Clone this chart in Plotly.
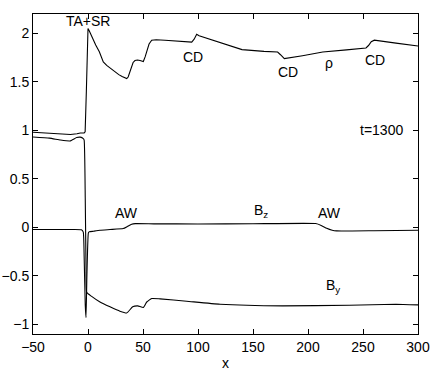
import plotly.graph_objects as go

# density rho
rho_x = [-50, -40, -30, -20, -16, -10, -7, -3.5, -2.6, -1.5, -0.6, 0, 1, 2.5, 4.8, 7, 10.3, 12,
         13.9, 17, 22, 28, 31, 33.5, 35.2, 36.5, 38, 39.7, 41, 42.7, 45, 47.3, 50.3, 52, 53.3,
         55.5, 57.9, 62, 70, 85, 94.3, 96.5, 98.8, 101, 105, 120, 140, 160, 172.4, 175, 177,
         178.5, 195, 213.4, 235, 252.7, 255, 257.5, 260.3, 263, 280, 300]
rho_y = [0.98, 0.975, 0.97, 0.96, 0.957, 0.965, 0.973, 0.973, 0.985, 1.4, 1.85, 2.05, 2.03,
         1.99, 1.93, 1.88, 1.81, 1.76, 1.705, 1.67, 1.625, 1.575, 1.555, 1.54, 1.534, 1.55, 1.6,
         1.654, 1.7, 1.72, 1.725, 1.72, 1.71, 1.76, 1.82, 1.89, 1.93, 1.935, 1.93, 1.92, 1.91,
         1.94, 1.99, 1.975, 1.96, 1.905, 1.833, 1.815, 1.808, 1.78, 1.75, 1.74, 1.77, 1.808,
         1.83, 1.85, 1.875, 1.915, 1.93, 1.925, 1.90, 1.87]

# B_y
by_x = [-50, -35, -25, -16.4, -10.3, -7, -4.3, -3.5, -2.5, -1.8, -1.2, 3, 10.9, 20, 29, 35.2,
        40.6, 45.2, 50.3, 53.4, 57.9, 65.5, 89.7, 120, 177, 237.5, 280, 300]
by_y = [0.932, 0.92, 0.9, 0.891, 0.926, 0.93, 0.915, 0.9, 0.3, -0.4, -0.67, -0.71, -0.77, -0.82,
        -0.865, -0.883, -0.82, -0.81, -0.827, -0.77, -0.734, -0.738, -0.762, -0.793, -0.81,
        -0.803, -0.793, -0.80]

# B_z
bz_x = [-50, -20, -6, -4.3, -3.5, -2.5, -1.8, -1.0, 0.3, 1, 5, 10.9, 20, 32, 36, 39.7, 43, 60,
        100, 150, 207, 212, 217, 222, 226, 260, 300]
bz_y = [-0.023, -0.023, -0.025, -0.05, -0.3, -0.8, -0.93, -0.5, -0.06, -0.047, -0.04, -0.03,
        -0.023, -0.013, 0.01, 0.032, 0.038, 0.036, 0.035, 0.037, 0.039, 0.02, -0.01, -0.03,
        -0.037, -0.035, -0.03]

labels = ["TA+SR", "CD", "CD", "ρ", "CD", "t=1300", "AW", "B<sub>z</sub>", "AW", "B<sub>y</sub>"]
lab_x = [0.3, 95.7, 181.5, 219.4, 261.2, 266.4, 35.2, 157, 219.4, 222.5]
lab_y = [2.128, 1.757, 1.60, 1.69, 1.723, 1.0, 0.148, 0.17, 0.148, -0.60]

fig = go.Figure()
# density drawn straight between the read points, the two field components smoothed
fig.add_trace(go.Scatter(x=rho_x, y=rho_y, mode="lines",
                         line=dict(color="black", width=1.1), showlegend=False))
for xs, ys in [(by_x, by_y), (bz_x, bz_y)]:
    fig.add_trace(go.Scatter(x=xs, y=ys, mode="lines",
                             line=dict(color="black", width=1.1, shape="spline", smoothing=0.4),
                             showlegend=False))

for t, x, y in zip(labels, lab_x, lab_y):
    fig.add_annotation(x=x, y=y, text=t, showarrow=False,
                       font=dict(size=14, color="black"))

axis_style = dict(showline=True, linecolor="black", linewidth=1, mirror="ticks",
                  ticks="inside", ticklen=5, tickcolor="black", showgrid=False,
                  zeroline=False, automargin=False, tickfont=dict(size=14, color="black"))

fig.update_xaxes(range=[-50, 300], tickvals=[-50, 0, 50, 100, 150, 200, 250, 300],
                 title=dict(text="x", font=dict(size=14, color="black"), standoff=4),
                 **axis_style)
fig.update_yaxes(range=[-1.1, 2.2], tickvals=[-1, -0.5, 0, 0.5, 1, 1.5, 2],
                 ticktext=["−1", "−0.5", "0", "0.5", "1", "1.5", "2"], **axis_style)

fig.update_layout(
    width=436, height=372,
    margin=dict(l=33, r=18, t=14, b=38),
    plot_bgcolor="white", paper_bgcolor="white",
    font=dict(family="Liberation Sans, Arial, sans-serif", size=14, color="black"),
)

# page body has a default 8px margin; drop it so the figure sits at the window corner
fig.write_html("out.html", config={"displayModeBar": False},
               post_script="document.body.style.margin='0';")
